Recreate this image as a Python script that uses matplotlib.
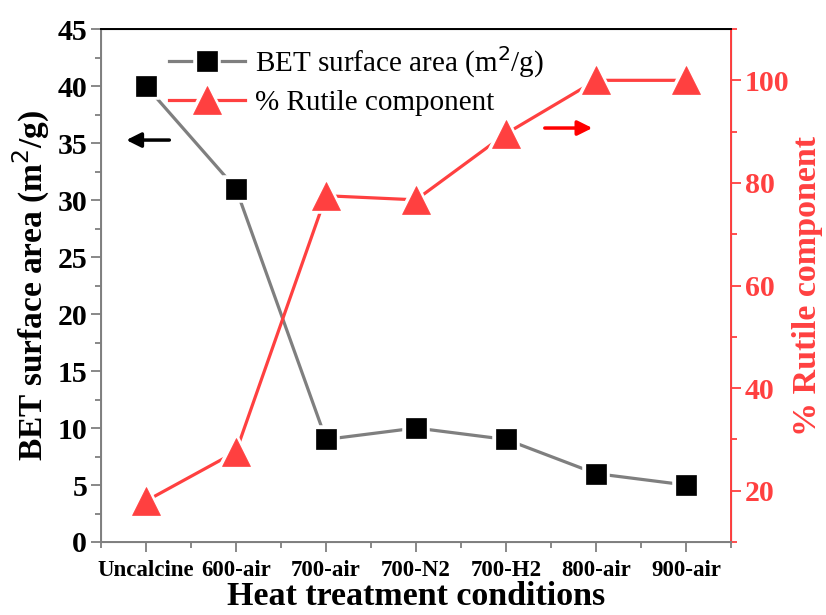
import matplotlib
matplotlib.use("Agg")
import matplotlib.pyplot as plt
from matplotlib.ticker import MultipleLocator

plt.rcParams['font.family'] = ['Liberation Serif', 'DejaVu Serif']

# data
conditions = ["Uncalcine", "600-air", "700-air", "700-N2", "700-H2", "800-air", "900-air"]
bet_area = [40, 31, 9, 10, 9, 6, 5]
rutile_pct = [18, 27.6, 77.5, 76.7, 89.6, 100, 100]

red = '#ff4040'
gray = '#7f7f7f'

fig = plt.figure(figsize=(8.26, 6.15), dpi=100)
ax = fig.add_axes([0.1223, 0.1187, 0.7627, 0.8341])
ax2 = ax.twinx()

x = list(range(len(conditions)))
# white marker edge gives the gap between line and marker
l1, = ax.plot(x, bet_area, color=gray, lw=2.3, marker='s', ms=16,
              mfc='black', mec='white', mew=4, label='BET surface area (m$^2$/g)')
l2, = ax2.plot(x, rutile_pct, color=red, lw=2.3, marker='^', ms=21,
               mfc=red, mec='white', mew=4, label='% Rutile component')
# redraw markers without the white halo on top
m1, = ax.plot(x, bet_area, ls='none', marker='s', ms=15, mfc='black', mec='black', mew=0.5)
m2, = ax2.plot(x, rutile_pct, ls='none', marker='^', ms=20, mfc=red, mec=red, mew=0.5)

ax.set_xlim(-0.5, 6.5)
ax.set_ylim(0, 45)
ax2.set_ylim(10, 110)

ax.set_xticks(x)
ax.set_xticklabels(conditions, fontsize=16.5, fontweight='bold')
ax.xaxis.set_minor_locator(MultipleLocator(0.5))
ax.yaxis.set_major_locator(MultipleLocator(5))
ax.yaxis.set_minor_locator(MultipleLocator(2.5))
ax2.yaxis.set_major_locator(MultipleLocator(20))
ax2.yaxis.set_minor_locator(MultipleLocator(10))

for lab in ax.get_yticklabels():
    lab.set_fontsize(21.5)
    lab.set_fontweight('bold')
for lab in ax2.get_yticklabels():
    lab.set_fontsize(21.5)
    lab.set_fontweight('bold')
    lab.set_color(red)

ax.tick_params(axis='both', which='major', direction='out', length=7, width=1.3, color=gray)
ax.tick_params(axis='both', which='minor', direction='out', length=4, width=1.3, color=gray)
ax.tick_params(axis='x', pad=6)
ax.tick_params(axis='y', pad=3)
ax2.tick_params(axis='y', which='major', direction='out', length=7, width=1.3, color=red, pad=3)
ax2.tick_params(axis='y', which='minor', direction='out', length=4, width=1.3, color=red)

ax.spines['left'].set_color(gray)
ax.spines['bottom'].set_color(gray)
ax2.spines['left'].set_color(gray)
ax2.spines['bottom'].set_color(gray)
ax2.spines['right'].set_color(red)
for s in ['left', 'bottom', 'right', 'top']:
    ax2.spines[s].set_linewidth(1.4)
ax2.spines['top'].set_color('black')

ax.set_xlabel('Heat treatment conditions', fontsize=24.5, fontweight='bold', labelpad=0)
ax.set_ylabel('BET surface area (m$^2$/g)', fontsize=24, fontweight='bold', labelpad=4)
ax2.set_ylabel('% Rutile component', fontsize=24.5, fontweight='bold', color=red, labelpad=2)

ax.annotate('', xy=(-0.25, 35.26), xytext=(0.29, 35.26),
            arrowprops=dict(arrowstyle='-|>', color='black', lw=2.5, mutation_scale=22))
ax2.annotate('', xy=(4.99, 90.7), xytext=(4.4, 90.7),
             arrowprops=dict(arrowstyle='-|>', color='red', lw=2.5, mutation_scale=22))

ax2.legend(handles=[(l1, m1), (l2, m2)], labels=[l1.get_label(), l2.get_label()],
           loc='upper left', bbox_to_anchor=(0.066, 1.022),
           frameon=False, fontsize=21, handlelength=2.6, labelspacing=0.35,
           handletextpad=0.35)

fig.savefig('out.png', dpi=100)
